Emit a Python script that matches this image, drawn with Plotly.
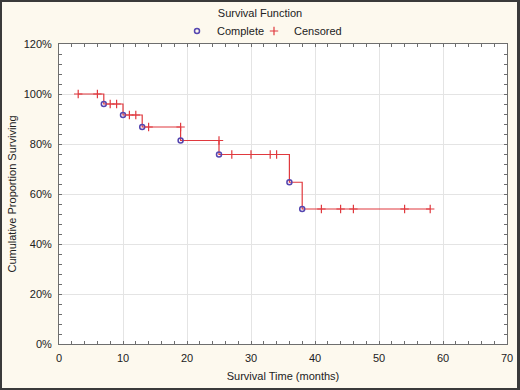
import plotly.graph_objects as go

# ---- data ----
event_times = [7, 10, 13, 19, 25, 36, 38]
event_surv = [0.96, 0.916, 0.868, 0.814, 0.758, 0.647, 0.54]

censored_times = [3, 6, 8, 9, 11, 12, 14, 19, 25, 27, 30, 33, 34, 41, 44, 46, 54, 58]
censored_surv = [1.0, 1.0, 0.96, 0.96, 0.916, 0.916, 0.868, 0.868, 0.814,
                 0.758, 0.758, 0.758, 0.758, 0.54, 0.54, 0.54, 0.54, 0.54]

x_ticks = [0, 10, 20, 30, 40, 50, 60, 70]
y_ticks = [0, 0.2, 0.4, 0.6, 0.8, 1.0, 1.2]

RED = "#e0393e"
BLUE = "#5546b0"
FONT = "Liberation Sans, Arial, sans-serif"

# step line of the survival function
line_x = [censored_times[0]] + event_times + [censored_times[-1]]
line_y = [1.0] + event_surv + [event_surv[-1]]

fig = go.Figure()
fig.add_trace(go.Scatter(x=line_x, y=line_y, mode="lines", line=dict(color=RED, width=1.2, shape="hv"),
                         showlegend=False, hoverinfo="skip"))
fig.add_trace(go.Scatter(x=event_times, y=event_surv, mode="markers", name="Complete", legend="legend",
                         marker=dict(symbol="circle-open", size=5, color=BLUE, line=dict(width=1.5, color=BLUE))))
fig.add_trace(go.Scatter(x=censored_times, y=censored_surv, mode="markers", name="Censored", legend="legend2",
                         marker=dict(symbol="cross-thin", size=6, line=dict(color=RED, width=1.2), color=RED)))

L, R, T, B = 59, 13, 44, 46
W, H = 520, 390
pw, ph = W - L - R, H - T - B


def px_x(px):
    return (px - L) / pw


def px_y(py):
    return (H - B - py) / ph


leg_common = dict(orientation="h", xanchor="left", y=px_y(31), yanchor="middle",
                  font=dict(family=FONT, size=11), bgcolor="rgba(0,0,0,0)", itemwidth=30)

fig.update_layout(
    width=W, height=H,
    margin=dict(l=L, r=R, t=T, b=B, autoexpand=False),
    paper_bgcolor="#fdf9ee",
    plot_bgcolor="white",
    font=dict(family=FONT, size=11, color="#222222"),
    title=dict(text="Survival Function", x=0.5, xanchor="center", y=1 - 13 / H, yanchor="middle",
               font=dict(family=FONT, size=11, color="#222222")),
    legend=dict(x=px_x(177), **leg_common),
    legend2=dict(x=px_x(254), **leg_common),
    xaxis=dict(range=[0, 70], tickvals=x_ticks, ticktext=[str(v) for v in x_ticks],
               showgrid=True, gridcolor="#e4e4e4", gridwidth=1, zeroline=False,
               showline=True, linecolor="#6e6e6e", linewidth=1, mirror="ticks",
               ticks="inside", ticklen=3, tickcolor="#6e6e6e",
               minor=dict(dtick=2, ticks="inside", ticklen=3, tickcolor="#6e6e6e", showgrid=False),
               title=dict(text="Survival Time (months)", standoff=9, font=dict(size=11)),
               ticklabelstandoff=4),
    yaxis=dict(range=[0, 1.2], tickvals=y_ticks, tickformat=".0%",
               showgrid=True, gridcolor="#e4e4e4", gridwidth=1, zeroline=False,
               showline=True, linecolor="#6e6e6e", linewidth=1, mirror="ticks",
               ticks="inside", ticklen=3, tickcolor="#6e6e6e",
               minor=dict(dtick=0.04, ticks="inside", ticklen=3, tickcolor="#6e6e6e", showgrid=False),
               title=dict(text="Cumulative Proportion Surviving", standoff=4, font=dict(size=11)),
               ticklabelstandoff=4),
    shapes=[dict(type="rect", xref="paper", yref="paper",
                 x0=px_x(0.5), x1=px_x(518.5), y0=px_y(389.5), y1=px_y(0.5),
                 line=dict(color="#3a3a3a", width=3), fillcolor="rgba(0,0,0,0)", layer="above")],
)

fig.write_html("out.html", config={"displayModeBar": False},
               post_script="document.body.style.margin='0';")
